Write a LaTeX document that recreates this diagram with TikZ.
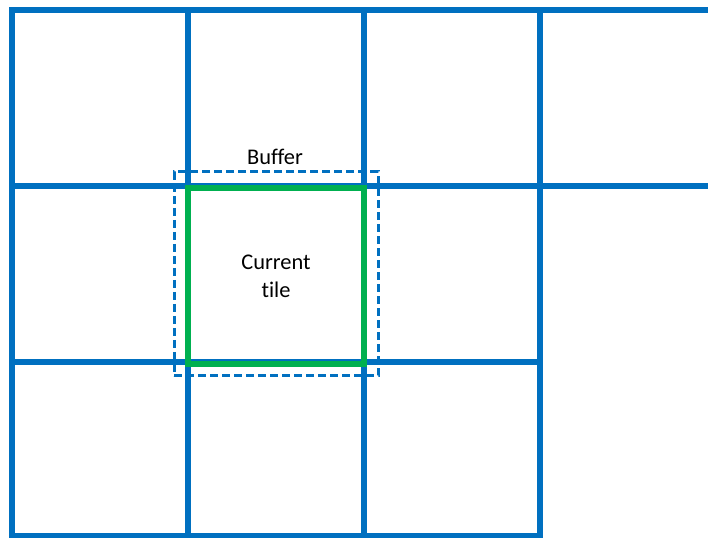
\documentclass[tikz,border=0pt]{standalone}
\usepackage{fontspec}
\setmainfont{Carlito}[Ligatures=NoCommon]
\usepackage{tikz}
\usepackage{xcolor}
\usetikzlibrary{positioning}
\definecolor{gridBlue}{RGB}{0,112,192}
\definecolor{tileGreen}{RGB}{0,176,80}

\begin{document}
\begin{tikzpicture}[
    x=0.75pt,y=-0.75pt,
    gridline/.style={line width=4.5pt,gridBlue,line cap=rect},
    tilebox/.style={draw=tileGreen,line width=4.5pt,minimum width=132pt,minimum height=132pt,align=center,inner sep=0pt,font=\fontsize{16.8}{21}\selectfont},
    bufferbox/.style={draw=gridBlue,line width=2.25pt,dash pattern=on 6pt off 3pt,minimum width=153pt,minimum height=153pt,inner sep=0pt},
    caption/.style={font=\fontsize{16.8}{20}\selectfont,inner sep=0pt}
  ]
    \useasboundingbox (0,0) rectangle (708,538);
    % grid of tiles
    \draw[gridline] (12,10) -- (708,10);
    \draw[gridline] (12,186) -- (708,186);
    \draw[gridline] (12,362) -- (540,362);
    \draw[gridline] (12,536) -- (540,536);
    \foreach \x in {12,188,364,540}
      \draw[gridline] (\x,10) -- (\x,536);
    % buffer and current tile
    \node[bufferbox] (buffer) at (276,274) {};
    \node[tilebox] (tile) at (276,276) {Current\\tile};
    \node[caption,anchor=base] (buflabel) at (275,165) {Buffer};
  \end{tikzpicture}
\end{document}
